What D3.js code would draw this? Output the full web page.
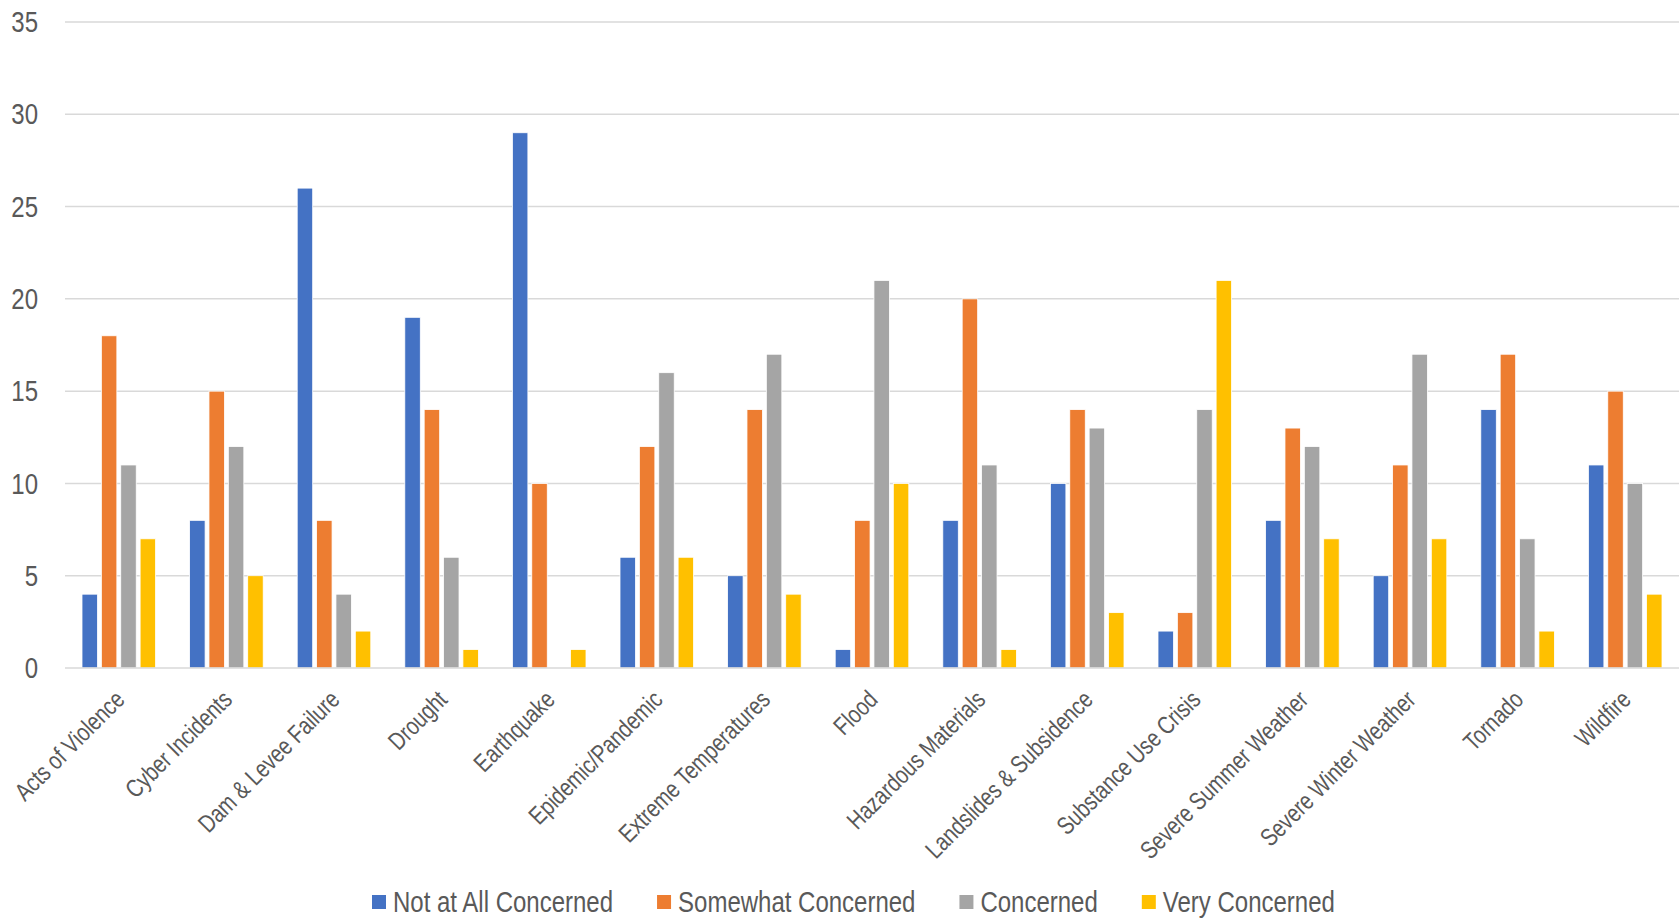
<!DOCTYPE html>
<html>
<head>
<meta charset="utf-8">
<script src="https://cdn.jsdelivr.net/npm/d3@7"></script>
<style>
  html, body { margin: 0; padding: 0; background: #fff; }
  svg text { font-family: "Liberation Sans", Arial, sans-serif; fill: #595959; }
</style>
</head>
<body>
<svg id="chart" width="1680" height="920"></svg>
<script>
const categories = ["Acts of Violence", "Cyber Incidents", "Dam & Levee Failure", "Drought", "Earthquake",
  "Epidemic/Pandemic", "Extreme Temperatures", "Flood", "Hazardous Materials", "Landslides & Subsidence",
  "Substance Use Crisis", "Severe Summer Weather", "Severe Winter Weather", "Tornado", "Wildfire"];
const seriesNames = ["Not at All Concerned", "Somewhat Concerned", "Concerned", "Very Concerned"];
const notAtAll   = [4, 8, 26, 19, 29, 6, 5, 1, 8, 10, 2, 8, 5, 14, 11];
const somewhat   = [18, 15, 8, 14, 10, 12, 14, 8, 20, 14, 3, 13, 11, 17, 15];
const concerned  = [11, 12, 4, 6, 0, 16, 17, 21, 11, 13, 14, 12, 17, 7, 10];
const very       = [7, 5, 2, 1, 1, 6, 4, 10, 1, 3, 21, 7, 7, 2, 4];
const yTicks = [0, 5, 10, 15, 20, 25, 30, 35];
const colors = ["#4472C4", "#ED7D31", "#A5A5A5", "#FFC000"];

const seriesValues = [notAtAll, somewhat, concerned, very];
const svg = d3.select("#chart");
const NARROW = 0.8;

const plotLeft = 65, plotRight = 1679, plotTop = 22, plotBottom = 668;

const x0 = d3.scaleBand().domain(categories).range([plotLeft, plotRight]).paddingInner(0.316).paddingOuter(0.158);
const x1 = d3.scaleBand().domain(seriesNames).range([0, x0.bandwidth()]).paddingInner(0.2).paddingOuter(0);
const y = d3.scaleLinear().domain([0, 35]).range([plotBottom, plotTop]);
const color = d3.scaleOrdinal().domain(seriesNames).range(colors);

// gridlines
svg.append("g").selectAll("line").data(yTicks.filter(d => d > 0)).join("line")
  .attr("x1", plotLeft).attr("x2", plotRight)
  .attr("y1", d => y(d)).attr("y2", d => y(d))
  .attr("stroke", "#D9D9D9").attr("stroke-width", 1.5);

// y axis labels
const yAxis = d3.axisLeft(y).tickValues(yTicks).tickSize(0).tickPadding(0);
const yg = svg.append("g").attr("transform", `translate(38,0)`).call(yAxis);
yg.select(".domain").remove();
yg.selectAll("text").attr("font-size", 30).attr("fill", "#595959")
  .style("font-family", '"Liberation Sans", Arial, sans-serif')
  .attr("x", 0).attr("transform", `scale(${NARROW},1)`);

// bars
const groups = svg.append("g").selectAll("g").data(categories).join("g")
  .attr("transform", d => `translate(${x0(d)},0)`);
groups.selectAll("rect").data((c, i) => seriesNames.map((s, k) => ({ s, v: seriesValues[k][i] })))
  .join("rect")
  .attr("x", d => x1(d.s))
  .attr("width", x1.bandwidth())
  .attr("y", d => y(d.v))
  .attr("height", d => y(0) - y(d.v))
  .attr("fill", d => color(d.s))
  .attr("stroke", "#ffffff").attr("stroke-width", d => d.v > 0 ? 0.8 : 0);

// x axis line
svg.append("line").attr("x1", plotLeft).attr("x2", plotRight).attr("y1", y(0)).attr("y2", y(0))
  .attr("stroke", "#D9D9D9").attr("stroke-width", 1.5);

// x labels
const xAxis = d3.axisBottom(x0).tickSize(0).tickPadding(0);
const xg = svg.append("g").attr("transform", `translate(0,${plotBottom})`).call(xAxis);
xg.select(".domain").remove();
xg.selectAll("text")
  .attr("font-size", 25).attr("fill", "#595959")
  .style("font-family", '"Liberation Sans", Arial, sans-serif')
  .attr("text-anchor", "end")
  .attr("y", 0).attr("dy", "0.35em")
  .attr("transform", `translate(1,27) rotate(-45) scale(${NARROW},1)`);

// legend
const legend = svg.append("g");
let lx = 372;
seriesNames.forEach((s, k) => {
  legend.append("rect").attr("x", lx).attr("y", 895).attr("width", 14).attr("height", 14).attr("fill", colors[k]);
  const t = legend.append("text").attr("x", 0).attr("y", 0).attr("font-size", 30)
    .attr("transform", `translate(${lx + 21},912) scale(${NARROW},1)`).text(s);
  const w = t.node().getComputedTextLength() * NARROW;
  lx = lx + 21 + w + 44;
});
</script>
</body>
</html>
